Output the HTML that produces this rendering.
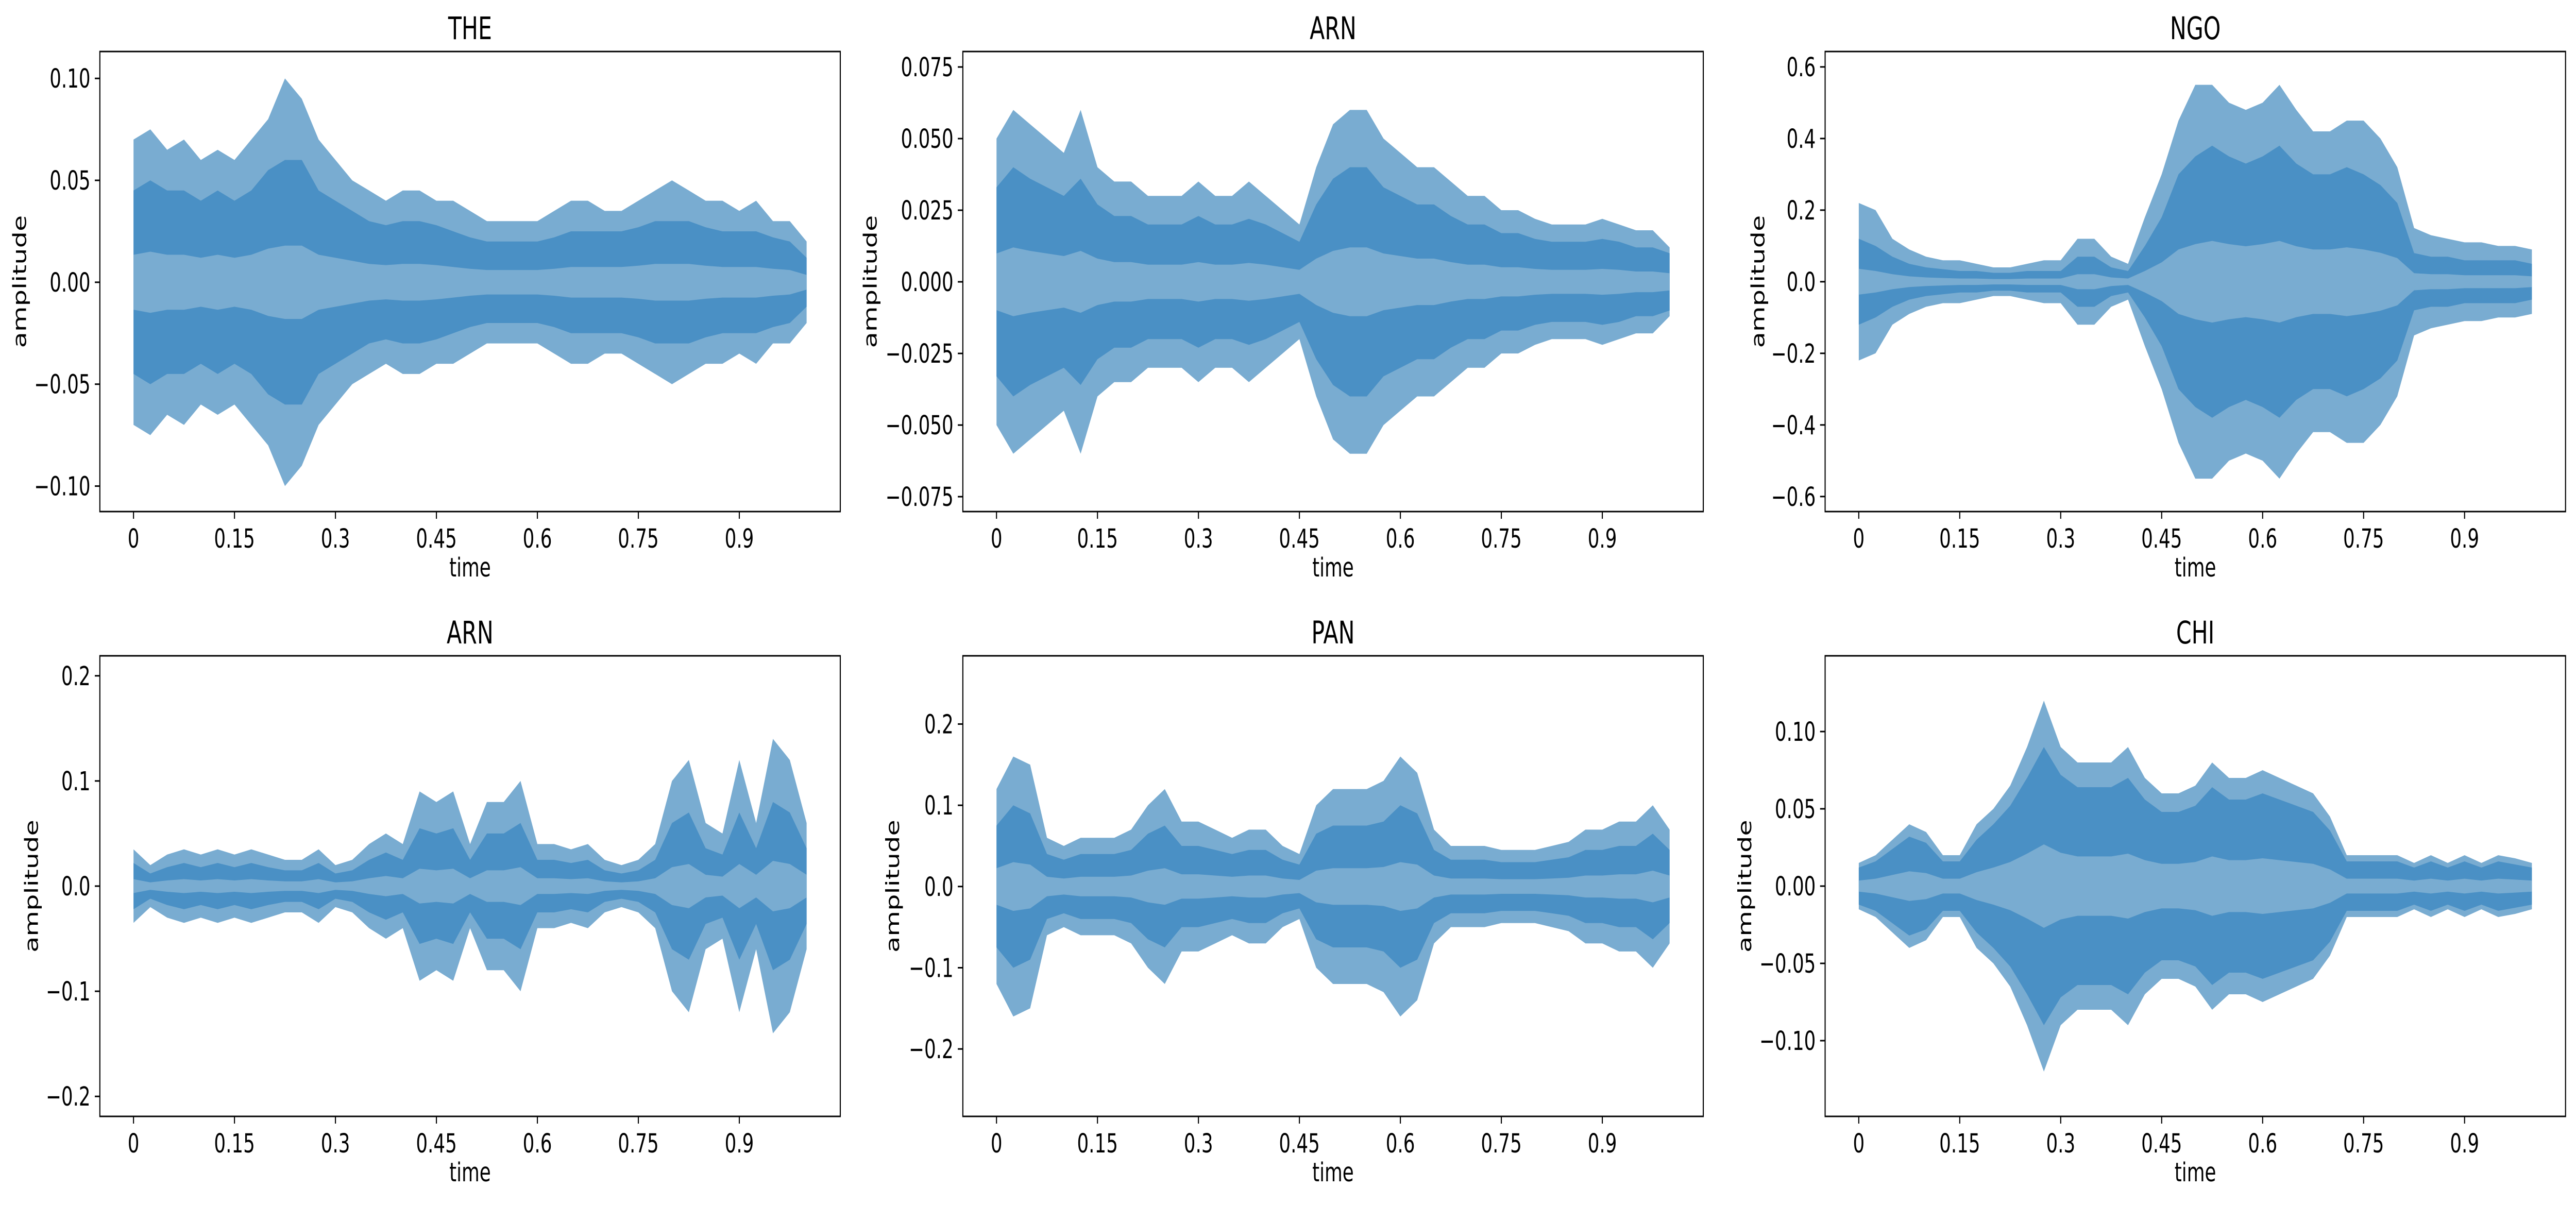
<!DOCTYPE html>
<html><head><meta charset="utf-8"><style>
html,body{margin:0;padding:0;background:#fff;width:100vw;height:100vh;overflow:hidden;}
svg{display:block;width:100vw;height:100vh;}
text{font-family:"DejaVu Sans","Liberation Sans",sans-serif;fill:#000;}
</style></head><body>
<svg id="fig" viewBox="0 0 7146 2339" preserveAspectRatio="none" xmlns="http://www.w3.org/2000/svg"></svg>
<script>
// ---- data (envelopes sampled every 0.025 s from t=0 to t=1.0) ----
const times = [0,0.025,0.05,0.075,0.1,0.125,0.15,0.175,0.2,0.225,0.25,0.275,0.3,0.325,0.35,0.375,0.4,0.425,0.45,0.475,0.5,0.525,0.55,0.575,0.6,0.625,0.65,0.675,0.7,0.725,0.75,0.775,0.8,0.825,0.85,0.875,0.9,0.925,0.95,0.975,1.0];
const titles = ["THE","ARN","NGO","ARN","PAN","CHI"];
const xTicks = [0,0.15,0.3,0.45,0.6,0.75,0.9];
const xTickLabels = ["0","0.15","0.3","0.45","0.6","0.75","0.9"];
const yTicks1 = [-0.10,-0.05,0,0.05,0.10];
const yTickLabels1 = ["\u22120.10","\u22120.05","0.00","0.05","0.10"];
const yTicks2 = [-0.075,-0.05,-0.025,0,0.025,0.05,0.075];
const yTickLabels2 = ["\u22120.075","\u22120.050","\u22120.025","0.000","0.025","0.050","0.075"];
const yTicks3 = [-0.6,-0.4,-0.2,0,0.2,0.4,0.6];
const yTickLabels3 = ["\u22120.6","\u22120.4","\u22120.2","0.0","0.2","0.4","0.6"];
const yTicks4 = [-0.2,-0.1,0,0.1,0.2];
const yTickLabels4 = ["\u22120.2","\u22120.1","0.0","0.1","0.2"];
const yTicks5 = [-0.2,-0.1,0,0.1,0.2];
const yTickLabels5 = ["\u22120.2","\u22120.1","0.0","0.1","0.2"];
const yTicks6 = [-0.10,-0.05,0,0.05,0.10];
const yTickLabels6 = ["\u22120.10","\u22120.05","0.00","0.05","0.10"];
const peak1 = [0.07,0.075,0.065,0.07,0.06,0.065,0.06,0.07,0.08,0.1,0.09,0.07,0.06,0.05,0.045,0.04,0.045,0.045,0.04,0.04,0.035,0.03,0.03,0.03,0.03,0.035,0.04,0.04,0.035,0.035,0.04,0.045,0.05,0.045,0.04,0.04,0.035,0.04,0.03,0.03,0.02];
const body1 = [0.045,0.05,0.045,0.045,0.04,0.045,0.04,0.045,0.055,0.06,0.06,0.045,0.04,0.035,0.03,0.028,0.03,0.03,0.028,0.025,0.022,0.02,0.02,0.02,0.02,0.022,0.025,0.025,0.025,0.025,0.027,0.03,0.03,0.03,0.027,0.025,0.025,0.025,0.022,0.02,0.012];
const peak2 = [0.05,0.06,0.055,0.05,0.045,0.06,0.04,0.035,0.035,0.03,0.03,0.03,0.035,0.03,0.03,0.035,0.03,0.025,0.02,0.04,0.055,0.06,0.06,0.05,0.045,0.04,0.04,0.035,0.03,0.03,0.025,0.025,0.022,0.02,0.02,0.02,0.022,0.02,0.018,0.018,0.012];
const body2 = [0.033,0.04,0.036,0.033,0.03,0.036,0.027,0.023,0.023,0.02,0.02,0.02,0.023,0.02,0.02,0.022,0.02,0.017,0.014,0.027,0.036,0.04,0.04,0.033,0.03,0.027,0.027,0.023,0.02,0.02,0.017,0.017,0.015,0.014,0.014,0.014,0.015,0.014,0.012,0.012,0.01];
const peak3 = [0.22,0.2,0.12,0.09,0.07,0.06,0.06,0.05,0.04,0.04,0.05,0.06,0.06,0.12,0.12,0.07,0.05,0.18,0.3,0.45,0.55,0.55,0.5,0.48,0.5,0.55,0.48,0.42,0.42,0.45,0.45,0.4,0.32,0.15,0.13,0.12,0.11,0.11,0.1,0.1,0.09];
const body3 = [0.12,0.1,0.07,0.05,0.04,0.035,0.03,0.03,0.025,0.025,0.03,0.03,0.03,0.07,0.07,0.04,0.03,0.1,0.18,0.3,0.35,0.38,0.35,0.33,0.35,0.38,0.33,0.3,0.3,0.32,0.3,0.27,0.22,0.08,0.07,0.07,0.06,0.06,0.06,0.06,0.05];
const peak4 = [0.035,0.02,0.03,0.035,0.03,0.035,0.03,0.035,0.03,0.025,0.025,0.035,0.02,0.025,0.04,0.05,0.04,0.09,0.08,0.09,0.04,0.08,0.08,0.1,0.04,0.04,0.035,0.04,0.025,0.02,0.025,0.04,0.1,0.12,0.06,0.05,0.12,0.06,0.14,0.12,0.06];
const body4 = [0.022,0.012,0.018,0.022,0.018,0.022,0.018,0.022,0.018,0.015,0.015,0.022,0.012,0.015,0.025,0.032,0.025,0.055,0.05,0.055,0.025,0.05,0.05,0.06,0.025,0.025,0.022,0.025,0.015,0.012,0.015,0.025,0.06,0.07,0.036,0.03,0.07,0.036,0.08,0.07,0.036];
const peak5 = [0.12,0.16,0.15,0.06,0.05,0.06,0.06,0.06,0.07,0.1,0.12,0.08,0.08,0.07,0.06,0.07,0.07,0.05,0.04,0.1,0.12,0.12,0.12,0.13,0.16,0.14,0.07,0.05,0.05,0.05,0.045,0.045,0.045,0.05,0.055,0.07,0.07,0.08,0.08,0.1,0.07];
const body5 = [0.075,0.1,0.09,0.04,0.033,0.04,0.04,0.04,0.045,0.065,0.075,0.05,0.05,0.045,0.04,0.045,0.045,0.033,0.027,0.065,0.075,0.075,0.075,0.08,0.1,0.09,0.045,0.033,0.033,0.033,0.03,0.03,0.03,0.033,0.036,0.045,0.045,0.05,0.05,0.065,0.045];
const peak6 = [0.015,0.02,0.03,0.04,0.035,0.02,0.02,0.04,0.05,0.065,0.09,0.12,0.09,0.08,0.08,0.08,0.09,0.07,0.06,0.06,0.065,0.08,0.07,0.07,0.075,0.07,0.065,0.06,0.045,0.02,0.02,0.02,0.02,0.015,0.02,0.015,0.02,0.015,0.02,0.018,0.015];
const body6 = [0.012,0.016,0.024,0.032,0.028,0.016,0.016,0.03,0.04,0.052,0.07,0.09,0.072,0.064,0.064,0.064,0.07,0.056,0.048,0.048,0.052,0.064,0.056,0.056,0.06,0.056,0.052,0.048,0.036,0.016,0.016,0.016,0.016,0.012,0.016,0.012,0.016,0.012,0.016,0.014,0.012];

const NS="http://www.w3.org/2000/svg";
const svg=document.getElementById('fig');
function mk(tag,attrs,parent){const e=document.createElementNS(NS,tag);for(const k in attrs)e.setAttribute(k,attrs[k]);(parent||svg).appendChild(e);return e;}

const panels=[
 {L:277,R:2331,T:100,B:993,ylo:-0.1125,yhi:0.1132,yt:yTicks1,yl:yTickLabels1,pk:peak1,bd:body1,ylab:54},
 {L:2671,R:4725,T:100,B:993,ylo:-0.0802,yhi:0.0804,yt:yTicks2,yl:yTickLabels2,pk:peak2,bd:body2,ylab:2414},
 {L:5063,R:7117,T:100,B:993,ylo:-0.642,yhi:0.643,yt:yTicks3,yl:yTickLabels3,pk:peak3,bd:body3,ylab:4876},
 {L:277,R:2331,T:1273,B:2167,ylo:-0.219,yhi:0.219,yt:yTicks4,yl:yTickLabels4,pk:peak4,bd:body4,ylab:87},
 {L:2671,R:4725,T:1273,B:2167,ylo:-0.283,yhi:0.284,yt:yTicks5,yl:yTickLabels5,pk:peak5,bd:body5,ylab:2476},
 {L:5063,R:7117,T:1273,B:2167,ylo:-0.149,yhi:0.149,yt:yTicks6,yl:yTickLabels6,pk:peak6,bd:body6,ylab:4840}
];

panels.forEach((p,i)=>{
  const g=mk('g',{});
  
  
  const xs=t=>p.L+(t+0.05)/1.1*(p.R-p.L);
  const ys=v=>p.B-(v-p.ylo)/(p.yhi-p.ylo)*(p.B-p.T);
  function env(arr,scale){
    let up=times.map((t,k)=>xs(t).toFixed(1)+','+ys(arr[k]*scale).toFixed(1));
    let dn=times.map((t,k)=>xs(t).toFixed(1)+','+ys(-arr[k]*scale).toFixed(1)).reverse();
    return up.concat(dn).join(' ');
  }
  const wave=mk('polygon',{points:env(p.pk,1),fill:'#79acd1'},g);
  
  
  const bodyP=mk('polygon',{points:env(p.bd,1),fill:'#4a90c5'},g);
  
  
  const core=mk('polygon',{points:env(p.bd,0.3),fill:'#79acd1'},g);
  
  
  const fr=mk('rect',{x:p.L,y:p.T,width:p.R-p.L,height:p.B-p.T,fill:'none',stroke:'#000','stroke-width':3},g);
  
  
  xTicks.forEach((t,k)=>{
    const x=xs(t);
    mk('line',{x1:x,y1:p.B,x2:x,y2:p.B+14,stroke:'#000','stroke-width':3},g);
    const tx=mk('text',{x:x,y:p.B+70,'font-size':51,'text-anchor':'middle'},g);
    tx.textContent=xTickLabels[k];
    
    
  });
  p.yt.forEach((v,k)=>{
    const y=ys(v);
    mk('line',{x1:p.L-14,y1:y,x2:p.L,y2:y,stroke:'#000','stroke-width':3},g);
    const ty=mk('text',{x:p.L-26,y:y+18,'font-size':51,'text-anchor':'end'},g);
    ty.textContent=p.yl[k];
    
    
  });
  const ttl=mk('text',{x:(p.L+p.R)/2,y:p.T-24,'font-size':61,'text-anchor':'middle'},g);
  ttl.textContent=titles[i];
  
  
  const xl=mk('text',{x:(p.L+p.R)/2,y:p.B+126,'font-size':51,'text-anchor':'middle'},g);
  xl.textContent='time';
  
  
  const cy=(p.T+p.B)/2;
  const yl=mk('text',{x:p.ylab+18,y:cy,'font-size':51,'text-anchor':'middle',transform:'rotate(-90 '+(p.ylab+18)+' '+cy+')'},g);
  yl.textContent='amplitude';
  
  
});
</script>
</body></html>
